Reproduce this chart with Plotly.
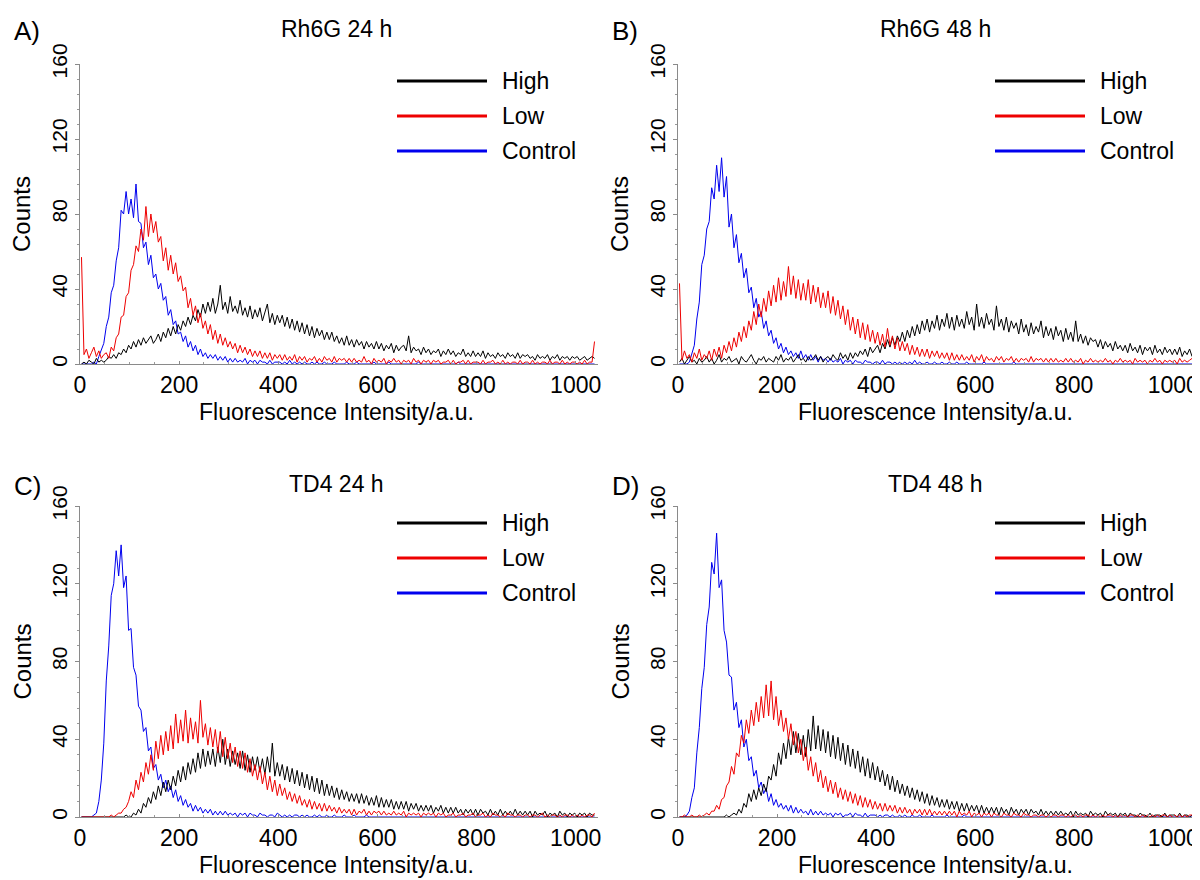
import plotly.graph_objects as go

# bin centres (a.u.), one value every 5 a.u.
X = list(range(3, 1040, 5))

# --- A) Rh6G 24 h ---
A_HIGH = [0, 1, 0, 2, 1, 0, 3, 1, 2, 1,
          2, 4, 3, 5, 3, 6, 5, 8, 6, 10,
          8, 12, 9, 13, 10, 14, 11, 13, 15, 11,
          13, 16, 12, 17, 14, 19, 15, 20, 16, 21,
          18, 23, 20, 25, 21, 26, 23, 29, 25, 32,
          27, 33, 28, 35, 27, 32, 42, 29, 33, 27,
          36, 28, 31, 27, 34, 26, 30, 25, 31, 24,
          29, 25, 30, 23, 28, 32, 22, 27, 21, 26,
          22, 26, 20, 25, 19, 24, 18, 23, 17, 22,
          16, 21, 15, 20, 14, 19, 15, 18, 13, 17,
          13, 17, 12, 15, 11, 14, 10, 15, 10, 13,
          9, 13, 10, 12, 8, 12, 9, 11, 8, 12,
          8, 11, 7, 10, 8, 11, 6, 10, 7, 9,
          10, 7, 15, 6, 9, 7, 8, 5, 9, 6,
          8, 5, 7, 6, 8, 4, 7, 5, 8, 5,
          7, 4, 6, 5, 8, 4, 6, 4, 7, 4,
          6, 4, 7, 3, 6, 4, 5, 3, 6, 4,
          5, 3, 6, 4, 5, 3, 6, 3, 5, 4,
          5, 3, 4, 2, 5, 3, 4, 3, 5, 2,
          4, 3, 5, 2, 4, 3, 4, 2, 4, 3,
          4, 2, 3, 4, 2, 3, 4, 3]
A_LOW = [57, 5, 8, 3, 6, 9, 4, 7, 3, 5,
         6, 3, 9, 7, 14, 16, 25, 26, 36, 38,
         50, 53, 63, 60, 72, 66, 84, 68, 80, 70,
         76, 65, 68, 55, 62, 50, 58, 48, 54, 44,
         47, 39, 41, 30, 35, 26, 31, 22, 27, 19,
         23, 16, 21, 13, 18, 11, 16, 10, 14, 9,
         12, 8, 11, 6, 10, 6, 9, 5, 8, 4,
         7, 4, 7, 3, 6, 3, 6, 2, 5, 3,
         5, 2, 5, 2, 4, 2, 5, 1, 4, 2,
         4, 1, 3, 2, 4, 1, 3, 1, 4, 2,
         3, 1, 4, 1, 3, 2, 3, 1, 3, 1,
         3, 1, 2, 1, 4, 1, 2, 0, 3, 1,
         2, 1, 3, 0, 2, 1, 3, 1, 2, 0,
         2, 1, 2, 0, 3, 1, 2, 0, 2, 1,
         2, 0, 2, 1, 2, 0, 1, 1, 2, 0,
         2, 0, 1, 1, 2, 0, 2, 0, 1, 1,
         1, 0, 2, 0, 1, 1, 2, 0, 1, 0,
         2, 0, 1, 0, 1, 1, 0, 2, 0, 1,
         1, 0, 2, 0, 1, 0, 1, 1, 0, 2,
         0, 1, 1, 0, 2, 0, 1, 0, 1, 1,
         0, 1, 0, 2, 0, 1, 1, 12]
A_CTRL = [0, 0, 0, 0, 0, 1, 0, 4, 8, 11,
          20, 25, 38, 42, 55, 62, 82, 80, 92, 80,
          88, 78, 96, 76, 75, 62, 65, 53, 58, 46,
          48, 40, 43, 34, 36, 26, 29, 21, 23, 16,
          17, 12, 15, 9, 12, 7, 10, 5, 8, 4,
          6, 3, 5, 3, 5, 2, 4, 2, 4, 1,
          3, 1, 3, 1, 2, 1, 3, 0, 2, 1,
          2, 0, 2, 1, 1, 0, 2, 0, 1, 1,
          1, 0, 1, 0, 2, 0, 1, 0, 1, 0,
          1, 0, 0, 1, 0, 1, 0, 0, 1, 0,
          0, 0, 1, 0, 0, 0, 0, 1, 0, 0,
          0, 1, 0, 0, 0, 0, 0, 0, 1, 0,
          0, 0, 0, 0, 1, 0, 0, 0, 0, 0,
          0, 0, 0, 0, 0, 0, 1, 0, 0, 0,
          0, 0, 0, 0, 0, 0, 0, 0, 0, 0,
          0, 0, 1, 0, 0, 0, 0, 0, 0, 0,
          0, 0, 0, 0, 0, 0, 0, 0, 0, 0,
          0, 0, 0, 0, 0, 0, 0, 0, 0, 0,
          0, 0, 0, 0, 0, 0, 0, 0, 0, 0,
          0, 0, 0, 0, 0, 0, 0, 0, 0, 0,
          0, 0, 0, 0, 0, 0, 0, 0]

# --- B) Rh6G 48 h ---
B_HIGH = [1, 3, 0, 2, 4, 1, 2, 0, 3, 1,
          2, 4, 1, 3, 0, 2, 5, 1, 3, 2,
          4, 1, 2, 3, 0, 4, 2, 1, 3, 5,
          2, 0, 3, 2, 4, 1, 3, 2, 1, 4,
          2, 5, 1, 3, 2, 4, 1, 3, 5, 2,
          3, 1, 4, 2, 3, 5, 2, 4, 1, 3,
          4, 2, 5, 3, 2, 6, 3, 5, 2, 6,
          3, 6, 4, 7, 5, 8, 4, 9, 6, 8,
          10, 6, 11, 8, 13, 9, 14, 10, 15, 12,
          17, 12, 18, 14, 20, 15, 21, 16, 23, 18,
          24, 17, 23, 19, 26, 18, 24, 20, 27, 19,
          25, 18, 26, 20, 24, 19, 28, 21, 25, 18,
          32, 20, 25, 19, 27, 21, 24, 18, 31, 20,
          24, 18, 25, 17, 23, 19, 22, 16, 24, 17,
          21, 15, 22, 16, 20, 17, 23, 14, 20, 15,
          19, 13, 20, 15, 18, 12, 19, 13, 17, 12,
          23, 12, 16, 11, 15, 10, 14, 12, 13, 9,
          13, 8, 12, 9, 11, 7, 12, 8, 10, 7,
          10, 6, 11, 7, 9, 6, 10, 5, 9, 7,
          9, 5, 10, 6, 8, 5, 9, 6, 8, 5,
          8, 5, 9, 4, 7, 5, 8, 4]
B_LOW = [43, 2, 7, 3, 5, 1, 6, 3, 8, 2,
         5, 3, 7, 2, 8, 4, 9, 3, 10, 6,
         12, 7, 14, 9, 17, 12, 20, 14, 23, 18,
         28, 21, 32, 25, 35, 28, 39, 31, 42, 33,
         46, 34, 44, 36, 52, 37, 47, 35, 45, 34,
         43, 34, 45, 32, 42, 33, 41, 30, 38, 30,
         39, 27, 36, 26, 34, 24, 31, 21, 29, 18,
         25, 16, 24, 14, 22, 13, 21, 12, 18, 11,
         17, 10, 16, 9, 19, 10, 15, 8, 14, 7,
         12, 7, 11, 5, 10, 5, 9, 4, 8, 4,
         8, 3, 7, 4, 7, 3, 6, 3, 6, 2,
         6, 2, 5, 2, 5, 2, 4, 2, 5, 1,
         4, 2, 5, 1, 4, 2, 3, 1, 4, 2,
         4, 1, 3, 2, 4, 1, 3, 1, 3, 2,
         3, 1, 4, 1, 3, 2, 3, 1, 3, 1,
         3, 1, 3, 1, 2, 1, 3, 1, 3, 1,
         2, 1, 3, 0, 2, 1, 3, 1, 2, 1,
         2, 1, 3, 1, 2, 0, 2, 1, 3, 1,
         2, 1, 2, 0, 3, 1, 2, 1, 2, 0,
         2, 1, 3, 1, 2, 0, 2, 1, 2, 1,
         2, 0, 3, 1, 2, 1, 2, 3]
B_CTRL = [0, 0, 0, 0, 1, 6, 10, 24, 33, 53,
          58, 72, 76, 94, 88, 106, 92, 110, 89, 100,
          73, 80, 62, 69, 54, 59, 46, 51, 38, 41,
          30, 35, 25, 28, 19, 23, 15, 18, 11, 14,
          8, 11, 6, 9, 5, 7, 4, 6, 3, 7,
          3, 5, 2, 5, 2, 4, 1, 4, 2, 3,
          1, 3, 1, 2, 1, 3, 0, 2, 1, 2,
          0, 2, 1, 1, 0, 2, 1, 1, 0, 1,
          1, 0, 2, 0, 1, 1, 0, 1, 0, 1,
          0, 1, 0, 1, 0, 2, 0, 1, 0, 0,
          1, 0, 0, 1, 0, 0, 1, 0, 0, 1,
          0, 0, 1, 0, 0, 0, 1, 0, 0, 0,
          0, 0, 0, 1, 0, 0, 0, 0, 0, 0,
          0, 0, 0, 0, 0, 1, 0, 0, 0, 0,
          0, 0, 0, 0, 0, 0, 0, 0, 0, 0,
          0, 0, 0, 0, 0, 0, 0, 0, 0, 0,
          0, 0, 0, 0, 0, 0, 0, 0, 0, 0,
          0, 0, 0, 0, 0, 0, 0, 0, 0, 0,
          0, 0, 0, 0, 0, 0, 0, 0, 0, 0,
          0, 0, 0, 0, 0, 0, 0, 0, 0, 0,
          0, 0, 0, 0, 0, 0, 0, 0]

# --- C) TD4 24 h ---
C_HIGH = [0, 0, 0, 0, 0, 0, 0, 0, 0, 0,
          0, 0, 0, 0, 0, 0, 0, 0, 1, 0,
          0, 2, 1, 4, 2, 7, 5, 10, 7, 13,
          9, 16, 11, 18, 13, 19, 14, 21, 16, 24,
          18, 26, 19, 28, 22, 30, 23, 33, 25, 35,
          26, 34, 27, 35, 26, 36, 28, 40, 27, 35,
          26, 34, 27, 33, 25, 34, 24, 32, 23, 31,
          24, 31, 23, 30, 22, 31, 23, 38, 21, 28,
          21, 27, 19, 26, 18, 25, 17, 24, 16, 23,
          15, 22, 14, 21, 13, 20, 12, 19, 11, 17,
          11, 16, 10, 15, 9, 14, 9, 13, 8, 12,
          8, 12, 7, 12, 7, 11, 6, 10, 6, 11,
          5, 10, 5, 9, 5, 9, 4, 8, 4, 8,
          4, 8, 3, 7, 4, 7, 3, 6, 3, 6,
          3, 6, 2, 5, 3, 6, 2, 5, 2, 5,
          2, 5, 2, 4, 1, 4, 2, 4, 1, 4,
          1, 4, 2, 3, 1, 4, 1, 3, 1, 4,
          1, 3, 1, 3, 1, 4, 1, 3, 1, 3,
          1, 3, 0, 3, 1, 2, 1, 3, 0, 2,
          1, 2, 0, 3, 1, 2, 0, 2, 1, 2,
          0, 2, 1, 2, 0, 2, 1, 1]
C_LOW = [0, 0, 0, 0, 0, 0, 0, 0, 0, 0,
         0, 0, 1, 0, 1, 2, 2, 4, 5, 8,
         13, 10, 19, 14, 23, 18, 28, 22, 32, 24,
         39, 30, 42, 32, 44, 34, 47, 35, 53, 38,
         50, 39, 55, 38, 51, 40, 49, 38, 60, 41,
         48, 37, 46, 36, 45, 33, 44, 31, 41, 30,
         38, 28, 36, 26, 34, 25, 33, 23, 30, 21,
         27, 19, 26, 17, 23, 14, 21, 13, 19, 11,
         17, 11, 15, 9, 13, 8, 12, 7, 11, 6,
         9, 5, 9, 4, 8, 4, 7, 3, 7, 3,
         6, 3, 5, 2, 5, 2, 4, 2, 4, 1,
         4, 1, 3, 2, 4, 1, 3, 1, 3, 2,
         3, 1, 3, 1, 2, 1, 3, 1, 2, 1,
         3, 0, 2, 1, 2, 1, 2, 0, 2, 1,
         2, 1, 2, 0, 2, 1, 2, 0, 1, 1,
         2, 0, 1, 1, 2, 0, 1, 1, 2, 0,
         1, 1, 2, 0, 1, 0, 2, 1, 1, 0,
         1, 0, 2, 1, 1, 0, 1, 1, 0, 1,
         1, 0, 1, 1, 0, 1, 2, 0, 1, 0,
         1, 1, 0, 1, 0, 1, 1, 0, 1, 0,
         1, 0, 1, 0, 1, 1, 0, 2]
C_CTRL = [0, 0, 0, 0, 0, 1, 2, 8, 19, 38,
          70, 88, 114, 120, 137, 124, 140, 118, 124, 96,
          97, 77, 73, 57, 55, 44, 46, 34, 36, 25,
          27, 19, 22, 15, 19, 13, 16, 10, 14, 8,
          11, 6, 9, 5, 7, 3, 6, 3, 5, 2,
          4, 2, 4, 1, 3, 1, 3, 1, 3, 1,
          2, 1, 2, 0, 2, 1, 2, 0, 2, 1,
          1, 0, 2, 1, 1, 0, 1, 1, 0, 2,
          1, 0, 1, 0, 1, 0, 1, 1, 0, 1,
          0, 1, 0, 0, 1, 0, 1, 0, 0, 1,
          0, 0, 1, 0, 0, 0, 1, 0, 0, 0,
          1, 0, 0, 0, 0, 1, 0, 0, 0, 0,
          0, 0, 0, 0, 0, 0, 0, 0, 0, 0,
          0, 0, 0, 0, 0, 0, 0, 0, 0, 0,
          0, 0, 0, 0, 0, 0, 0, 0, 0, 0,
          0, 0, 0, 0, 0, 0, 0, 0, 0, 0,
          0, 0, 0, 0, 0, 0, 0, 0, 0, 0,
          0, 0, 0, 0, 0, 0, 0, 0, 0, 0,
          0, 0, 0, 0, 0, 0, 0, 0, 0, 0,
          0, 0, 0, 0, 0, 0, 0, 0, 0, 0,
          0, 0, 0, 0, 0, 0, 0, 0]

# --- D) TD4 48 h ---
D_HIGH = [0, 0, 0, 0, 0, 0, 0, 0, 0, 0,
          0, 0, 0, 0, 0, 0, 0, 0, 0, 1,
          0, 1, 2, 1, 4, 2, 7, 5, 12, 8,
          14, 9, 15, 11, 17, 13, 21, 19, 27, 21,
          33, 27, 38, 30, 41, 32, 44, 33, 43, 32,
          42, 31, 45, 34, 52, 35, 47, 34, 45, 33,
          44, 31, 42, 30, 41, 29, 38, 27, 37, 26,
          35, 25, 34, 23, 31, 21, 30, 20, 28, 19,
          26, 18, 24, 16, 22, 14, 21, 13, 19, 12,
          17, 11, 16, 10, 15, 9, 14, 8, 13, 7,
          12, 6, 11, 6, 10, 5, 9, 5, 9, 4,
          8, 4, 8, 3, 7, 3, 7, 3, 6, 3,
          6, 2, 6, 2, 5, 2, 5, 2, 5, 1,
          5, 2, 4, 1, 5, 2, 4, 1, 4, 2,
          4, 1, 4, 2, 3, 1, 4, 1, 3, 1,
          3, 1, 3, 1, 3, 1, 2, 1, 3, 0,
          3, 1, 2, 1, 2, 0, 3, 1, 2, 1,
          2, 0, 3, 1, 2, 1, 2, 0, 2, 1,
          2, 0, 2, 1, 1, 0, 2, 1, 1, 0,
          2, 0, 1, 1, 1, 0, 2, 0, 1, 1,
          1, 0, 2, 0, 1, 1, 0, 1]
D_LOW = [0, 0, 1, 0, 0, 1, 0, 0, 1, 0,
         1, 2, 1, 3, 3, 6, 4, 9, 10, 16,
         18, 26, 22, 33, 31, 42, 38, 50, 43, 55,
         47, 59, 49, 62, 51, 68, 52, 70, 50, 62,
         47, 55, 44, 51, 40, 48, 37, 44, 33, 40,
         29, 36, 24, 31, 21, 28, 18, 24, 15, 21,
         13, 19, 12, 18, 10, 15, 9, 14, 8, 13,
         7, 12, 6, 11, 5, 10, 5, 9, 4, 8,
         4, 7, 3, 7, 3, 6, 3, 6, 2, 5,
         2, 5, 2, 4, 1, 4, 2, 4, 1, 4,
         1, 4, 1, 3, 1, 3, 1, 3, 1, 3,
         1, 3, 0, 3, 1, 2, 1, 3, 0, 2,
         1, 2, 0, 2, 1, 2, 0, 2, 1, 1,
         0, 2, 1, 1, 0, 2, 1, 1, 0, 2,
         1, 1, 0, 1, 1, 0, 1, 1, 0, 1,
         0, 1, 1, 0, 1, 1, 0, 1, 0, 1,
         1, 0, 1, 0, 1, 1, 0, 1, 0, 1,
         0, 1, 0, 1, 1, 0, 1, 0, 1, 0,
         1, 0, 1, 1, 0, 1, 0, 1, 0, 1,
         0, 1, 0, 1, 0, 1, 1, 0, 1, 0,
         1, 0, 1, 0, 1, 0, 1, 1]
D_CTRL = [0, 0, 0, 1, 3, 10, 15, 33, 46, 66,
          77, 99, 108, 131, 125, 146, 118, 122, 96, 90,
          73, 72, 55, 59, 46, 50, 36, 40, 29, 31,
          21, 24, 15, 18, 12, 15, 8, 12, 6, 9,
          5, 7, 4, 6, 3, 6, 2, 5, 2, 4,
          2, 3, 1, 4, 1, 3, 1, 3, 1, 2,
          1, 2, 0, 2, 1, 2, 0, 1, 1, 2,
          0, 2, 1, 1, 0, 2, 0, 1, 1, 1,
          0, 1, 0, 1, 1, 0, 1, 0, 0, 1,
          0, 1, 0, 0, 1, 0, 0, 1, 0, 0,
          0, 0, 1, 0, 0, 0, 0, 0, 1, 0,
          0, 0, 0, 0, 0, 1, 0, 0, 0, 0,
          0, 0, 0, 0, 0, 0, 0, 0, 0, 0,
          0, 0, 0, 0, 0, 0, 0, 0, 0, 0,
          0, 0, 0, 0, 0, 0, 0, 0, 0, 0,
          0, 0, 0, 0, 0, 0, 0, 0, 0, 0,
          0, 0, 0, 0, 0, 0, 0, 0, 0, 0,
          0, 0, 0, 0, 0, 0, 0, 0, 0, 0,
          0, 0, 0, 0, 0, 0, 0, 0, 0, 0,
          0, 0, 0, 0, 0, 0, 0, 0, 0, 0,
          0, 0, 0, 0, 0, 0, 0, 0]

LETTERS = ["A)", "B)", "C)", "D)"]
TITLES = ["Rh6G 24 h", "Rh6G 48 h", "TD4 24 h", "TD4 48 h"]
SERIES = ["High", "Low", "Control"]
COLORS = {"High": "#000000", "Low": "#ee0000", "Control": "#0000ee"}

# the page body has an 8 px margin, so the figure is made 8 px smaller
# and every screen position is shifted back by that amount
OFF = 8
W, H = 1200 - OFF, 880 - OFF
FONT = "Liberation Sans, Arial, sans-serif"

def px(x):
    return (x - OFF) / W

def py(y):
    return 1 - (y - OFF) / H

# panel geometry in screen pixels: axis left/right, y of 0, y of 160, top of the row
panels = [
    dict(data=(A_HIGH, A_LOW, A_CTRL), left=80, right=598, xmax=1045, y0=364, y160=64, top=0),
    dict(data=(B_HIGH, B_LOW, B_CTRL), left=678, right=1198, xmax=1050, y0=364, y160=64, top=0),
    dict(data=(C_HIGH, C_LOW, C_CTRL), left=80, right=598, xmax=1045, y0=817, y160=506, top=455),
    dict(data=(D_HIGH, D_LOW, D_CTRL), left=678, right=1198, xmax=1050, y0=817, y160=506, top=455),
]

fig = go.Figure()
layout = dict(width=W, height=H, margin=dict(l=0, r=0, t=0, b=0),
              paper_bgcolor="white", plot_bgcolor="white", showlegend=False,
              font=dict(family=FONT, color="black"))
annotations = []
shapes = []

for k, p in enumerate(panels):
    n = "" if k == 0 else str(k + 1)
    xa, ya = "x" + n, "y" + n
    high, low, ctrl = p["data"]
    # control first, red drawn last
    for name, ys in (("Control", ctrl), ("High", high), ("Low", low)):
        fig.add_trace(go.Scatter(x=X, y=ys, mode="lines", name=name, xaxis=xa, yaxis=ya,
                                 line=dict(color=COLORS[name], width=1)))

    layout["xaxis" + n] = dict(
        domain=[px(p["left"]), min(1, px(p["right"]))], anchor=ya, range=[0, p["xmax"]],
        automargin=False, ticklabeloverflow="allow",
        showgrid=False, zeroline=False, showline=True, linecolor="#8a8a8a", linewidth=1,
        tickvals=[0, 200, 400, 600, 800, 1000], ticks="inside", ticklen=3, tickcolor="#8a8a8a",
        minor=dict(dtick=50, ticks="inside", ticklen=2, tickcolor="#9a9a9a"),
        tickfont=dict(size=23, family=FONT, color="black"))
    layout["yaxis" + n] = dict(
        domain=[py(p["y0"]), py(p["y160"])], anchor=xa, range=[0, 160], automargin=False,
        showgrid=False, zeroline=False, showline=True, linecolor="#8a8a8a", linewidth=1,
        tickvals=[0, 40, 80, 120, 160], ticks="outside", ticklen=4, tickcolor="#8a8a8a",
        minor=dict(dtick=8, ticks="outside", ticklen=2, tickcolor="#9a9a9a"),
        tickangle=-90, tickfont=dict(size=21, family=FONT, color="black"))

    cx = (p["left"] + p["right"]) / 2 - 3
    annotations += [
        dict(text=LETTERS[k], x=px(p["left"] - 53), y=py(p["top"] + 31), xref="paper", yref="paper",
             showarrow=False, xanchor="center", yanchor="middle", font=dict(size=26)),
        dict(text=TITLES[k], x=px(cx), y=py(p["top"] + 29), xref="paper", yref="paper",
             showarrow=False, xanchor="center", yanchor="middle", font=dict(size=23)),
        dict(text="Fluorescence Intensity/a.u.", x=px(cx), y=py(p["y0"] + 48), xref="paper", yref="paper",
             showarrow=False, xanchor="center", yanchor="middle", font=dict(size=23)),
        dict(text="Counts", x=px(p["left"] - 58), y=py((p["y0"] + p["y160"]) / 2), xref="paper", yref="paper",
             showarrow=False, xanchor="center", yanchor="middle", textangle=-90, font=dict(size=24)),
    ]
    # legend drawn by hand (long sample lines)
    for j, name in enumerate(SERIES):
        ly = p["y160"] + 17 + 35 * j
        shapes.append(dict(type="line", xref="paper", yref="paper",
                           x0=px(p["left"] + 317), x1=px(p["left"] + 407), y0=py(ly), y1=py(ly),
                           line=dict(color=COLORS[name], width=3)))
        annotations.append(dict(text=name, x=px(p["left"] + 420), y=py(ly), xref="paper", yref="paper",
                                showarrow=False, xanchor="left", yanchor="middle", font=dict(size=23)))

layout["annotations"] = annotations
layout["shapes"] = shapes
fig.update_layout(**layout)
fig.write_html("out.html")
